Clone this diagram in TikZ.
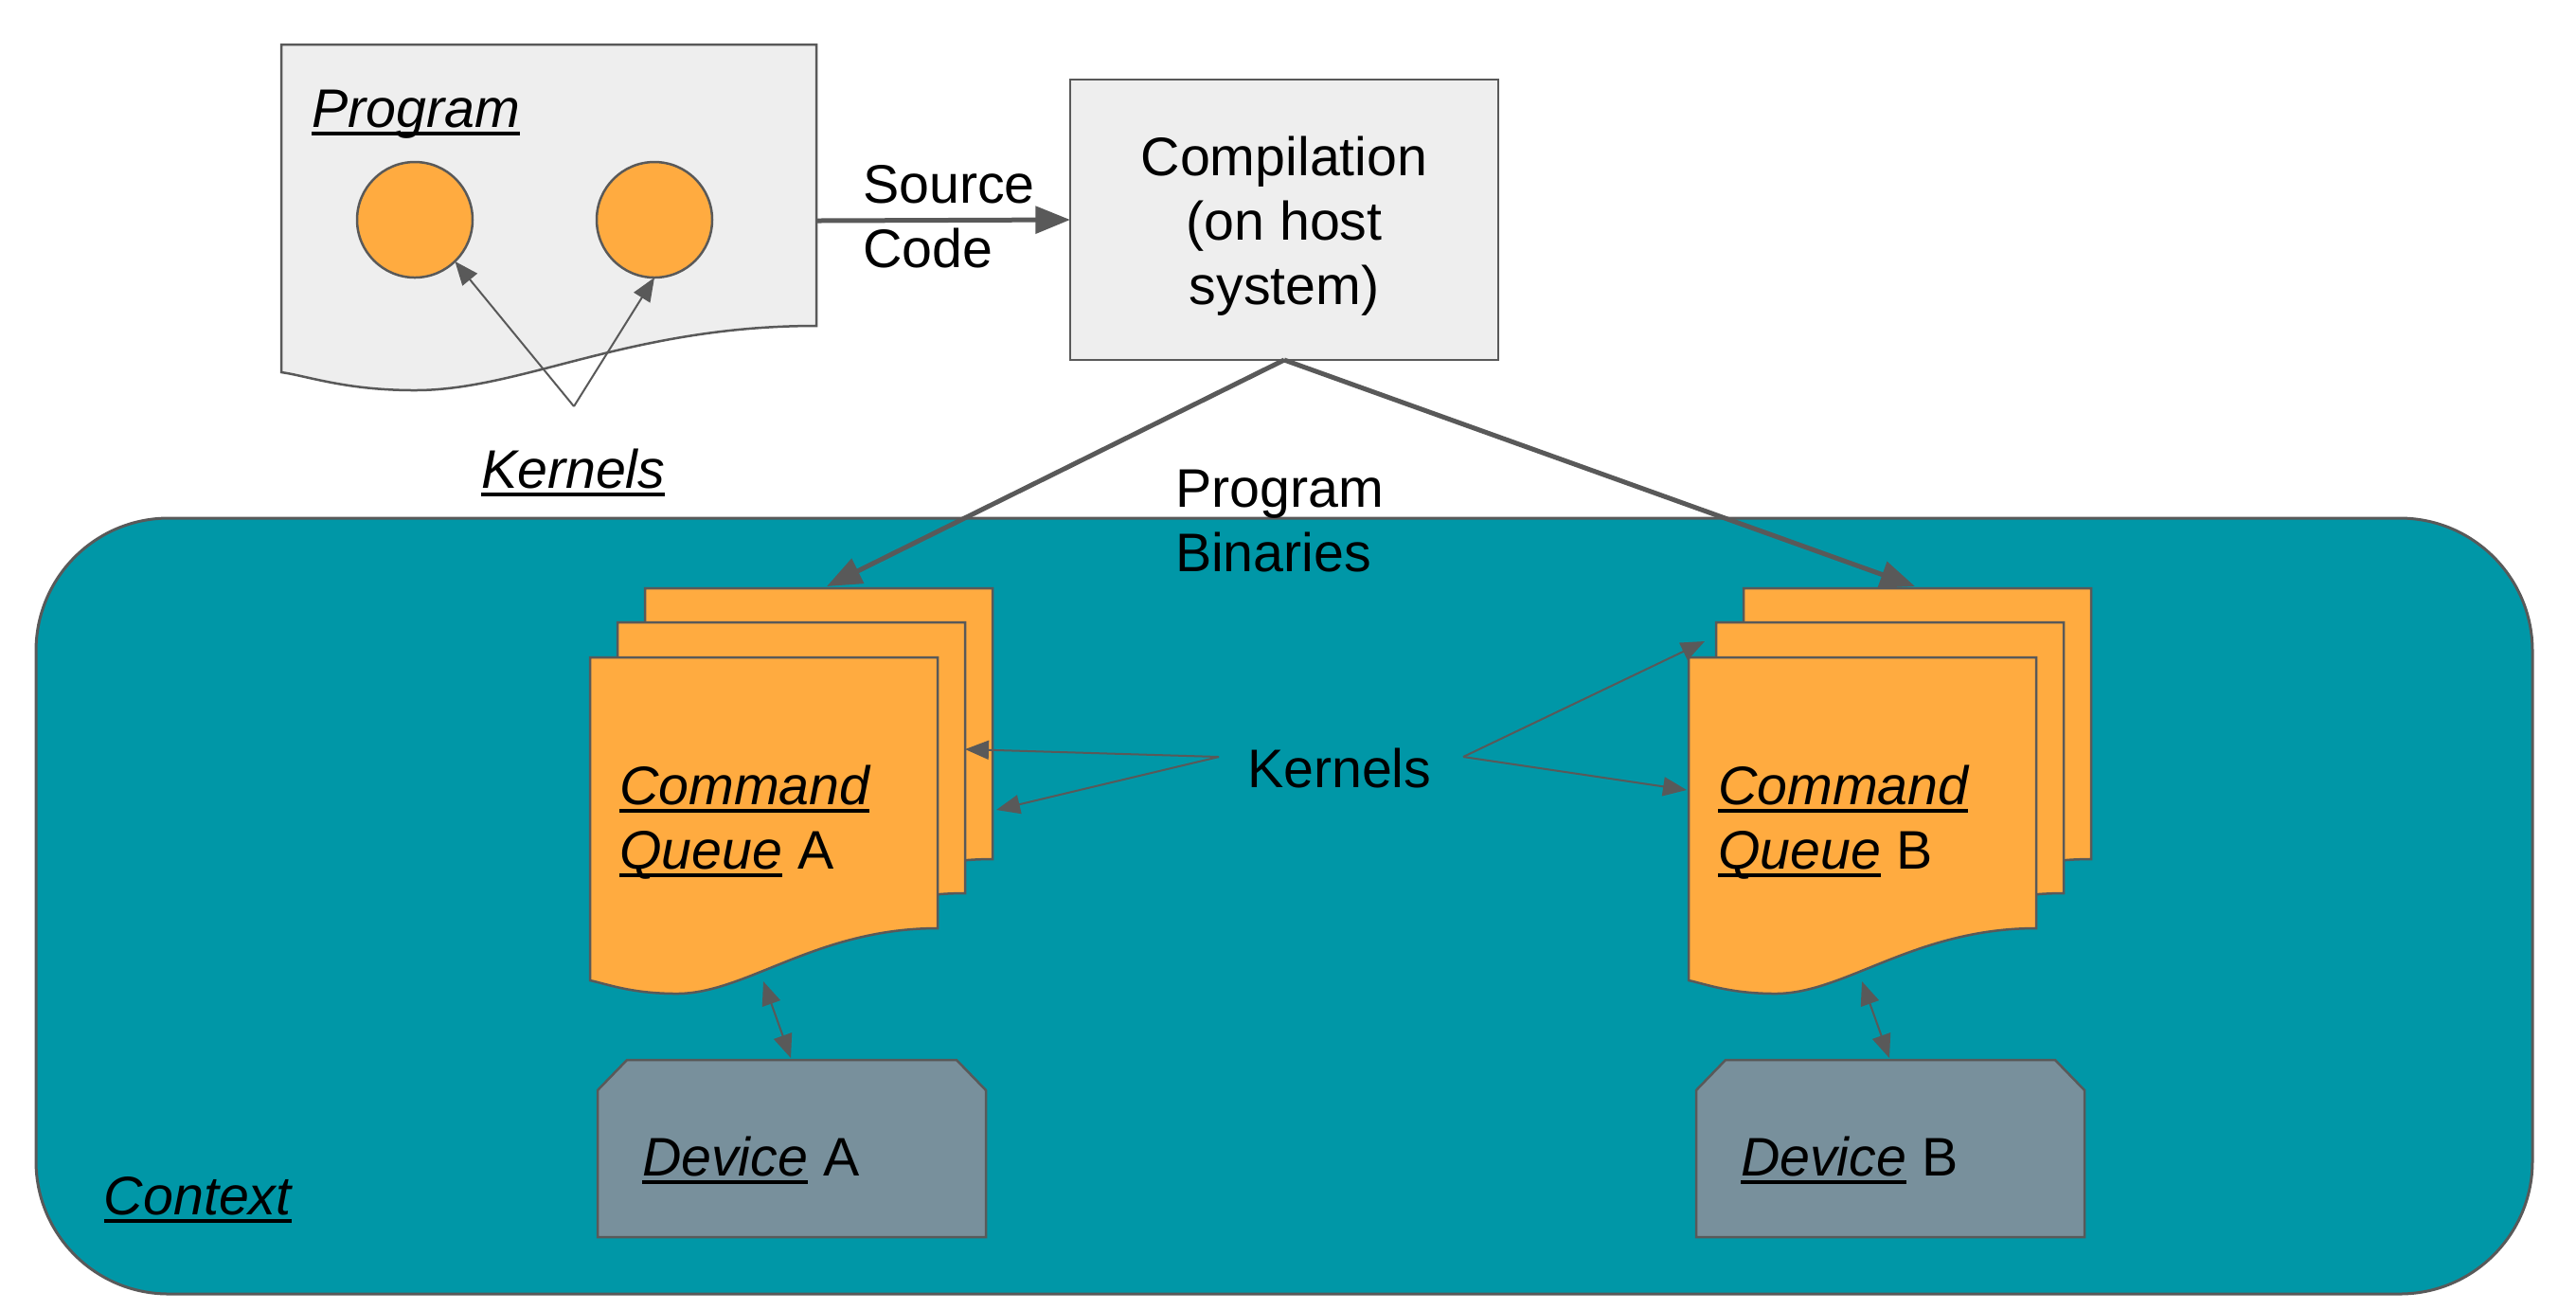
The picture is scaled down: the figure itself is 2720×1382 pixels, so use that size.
\documentclass[tikz,border=0pt]{standalone}
\usepackage{fontspec}
\setmainfont{Liberation Sans}
\usetikzlibrary{arrows.meta}
\definecolor{ln}{HTML}{595959}
\definecolor{docgray}{HTML}{EEEEEE}
\definecolor{korange}{HTML}{FFAB40}
\definecolor{tealbg}{HTML}{0097A7}
\definecolor{devgray}{HTML}{78909C}
\newcommand{\ulit}[1]{\setbox0\hbox{\itshape #1}\rlap{\rule[-0.16em]{\wd0}{0.075em}}\box0\relax}
% style, L, T, W, H, d1, d2
\newcommand{\docshape}[7]{\filldraw[#1] (#2,#3) -- ({#2+#4},#3) -- ({#2+#4},{#3+#5})
  .. controls ({#2+0.65*#4},{#3+#5}) and ({#2+0.45*#4},{#3+#5+#7}) .. ({#2+0.25*#4},{#3+#5+#7})
  .. controls ({#2+0.12*#4},{#3+#5+#7}) and ({#2+0.05*#4},{#3+#5+#6+4}) .. (#2,{#3+#5+#6}) -- cycle;}
% style, L, T, R, B
\newcommand{\devshape}[5]{\filldraw[#1] ({#2+31},#3) -- ({#4-31},#3) -- (#4,{#3+32}) -- (#4,#5) -- (#2,#5) -- (#2,{#3+32}) -- cycle;}
\begin{document}
\begin{tikzpicture}[x=0.3pt,y=-0.3pt,
  txt/.style={font=\fontsize{17.2pt}{20.4pt}\selectfont, inner sep=0pt, outer sep=0pt, text=black},
  shapeln/.style={draw=ln, line width=0.75pt},
  karrow/.style={draw=ln, line width=0.6pt, -{Triangle[length=7.5pt,width=6pt]}},
  kboth/.style={draw=ln, line width=0.6pt, {Triangle[length=7.5pt,width=6pt]}-{Triangle[length=7.5pt,width=6pt]}},
  barrow/.style={draw=ln, line width=1.5pt, -{Triangle[length=11pt,width=8.5pt]}},
  kcirc/.style={circle, shapeln, fill=korange, minimum size=36.6pt, inner sep=0pt, outer sep=0pt},
]
\useasboundingbox (0,0) rectangle (2720,1382);

% Program document
\docshape{shapeln, fill=docgray}{297}{47}{565}{297}{49}{68}
\node[kcirc] (c1) at (438,232) {};
\node[kcirc] (c2) at (691,232) {};
\coordinate (kk) at (606,429);
\draw[karrow] (kk) -- (c1.-46);
\draw[karrow] (kk) -- (c2.south);

% Compilation
\node[shapeln, fill=docgray, minimum width=135.6pt, minimum height=88.8pt, inner sep=0pt, outer sep=0pt] (comp) at (1356,232) {};
\coordinate (srcA) at (862,233);
\draw[barrow] (srcA) -- (comp.west);

% Context
\node[draw=ln, line width=0.9pt, fill=tealbg, rounded corners=42pt, minimum width=790.8pt, minimum height=245.7pt, inner sep=0pt, outer sep=0pt] (ctx) at (1356,956.5) {};

% Command queues
\docshape{shapeln, fill=korange}{681}{621}{367}{286}{55}{69}
\docshape{shapeln, fill=korange}{652}{657}{367}{286}{55}{69}
\docshape{shapeln, fill=korange}{623}{694}{367}{286}{55}{69}
\docshape{shapeln, fill=korange}{1841}{621}{367}{286}{55}{69}
\docshape{shapeln, fill=korange}{1812}{657}{367}{286}{55}{69}
\docshape{shapeln, fill=korange}{1783}{694}{367}{286}{55}{69}

% Devices
\devshape{shapeln, fill=devgray}{631}{1119}{1041}{1306}
\devshape{shapeln, fill=devgray}{1791}{1119}{2201}{1306}

% CQ <-> device
\coordinate (qa) at (806,1036); \coordinate (da) at (835,1117);
\coordinate (qb) at (1966,1036); \coordinate (db) at (1995,1117);
\draw[kboth] (qa) -- (da);
\draw[kboth] (qb) -- (db);

% Kernels (middle)
\node[txt, anchor=base west] (kmid) at (1317,831) {Kernels};
\coordinate (kl) at (1287,799); \coordinate (kr) at (1545,799);
\coordinate (ta1) at (1019,791); \coordinate (ta2) at (1052,855);
\coordinate (tb1) at (1800,677); \coordinate (tb2) at (1781,834);
\draw[karrow] (kl) -- (ta1);
\draw[karrow] (kl) -- (ta2);
\draw[karrow] (kr) -- (tb1);
\draw[karrow] (kr) -- (tb2);

% Program binaries
\coordinate (pba) at (873,619); \coordinate (pbb) at (2022,619);
\draw[barrow] (comp.south) -- (pba);
\draw[barrow] (comp.south) -- (pbb);

% Texts (multi-line nodes anchored at the baseline of their last line)
\node[txt, anchor=base west] (progtxt) at (329,134) {\ulit{Program}};
\node[txt, anchor=base west] (kertop) at (508,515) {\ulit{Kernels}};
\node[txt, anchor=base west, align=left] (srctxt) at (911,282) {Source\\Code};
\node[txt, anchor=base, align=center] (comptxt) at (1356,321) {Compilation\\(on host\\system)};
\node[txt, anchor=base west, align=left] (bintxt) at (1241,603) {Program\\Binaries};
\node[txt, anchor=base west] (ctxtxt) at (110,1282) {\ulit{Context}};
\node[txt, anchor=base west, align=left] (cqa) at (654,917) {\ulit{Command}\\\ulit{Queue} A};
\node[txt, anchor=base west, align=left] (cqb) at (1814,917) {\ulit{Command}\\\ulit{Queue} B};
\node[txt, anchor=base west] (deva) at (678,1241) {\ulit{Device} A};
\node[txt, anchor=base west] (devb) at (1838,1241) {\ulit{Device} B};
\end{tikzpicture}
\end{document}
